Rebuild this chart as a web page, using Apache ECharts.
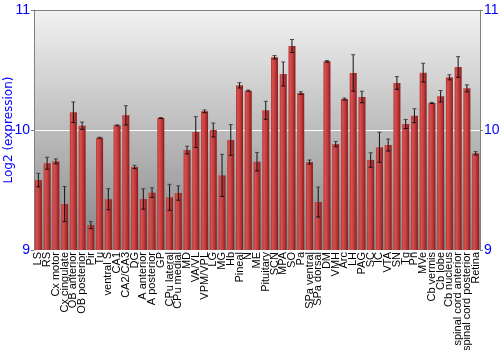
<!DOCTYPE html>
<html>
<head>
<meta charset="utf-8">
<script src="https://cdn.jsdelivr.net/npm/echarts@6/dist/echarts.min.js"></script>
<style>html,body{margin:0;padding:0;background:#fff}#c{width:500px;height:350px}</style>
</head>
<body>
<div id="c"></div>
<script>
var categories = ["LS","RS","Cx motor","Cx cingulate","OB anterior","OB posterior","Pir","Tu","ventral S","CA1","CA2/CA3","DG","A anterior","A posterior","GP","CPu lateral","CPu medial","MD","VA/VL","VPM/VPL","LG","MG","Hb","Pineal","N","ME","Pituitary","SCN","MPA","SO","Pa","SPa ventral","SPa dorsal","DM","VMH","Arc","LH","PAG","SC","IC","VTA","SN","Tg","Pn","MVe","Cb vermis","Cb lobe","Cb nucleus","spinal cord anterior","spinal cord posterior","Retina"];
var means = [9.583,9.723,9.739,9.383,10.148,10.036,9.208,9.936,9.423,10.039,10.122,9.692,9.425,9.478,10.1,9.439,9.475,9.833,9.983,10.156,10.0,9.622,9.917,10.372,10.328,9.736,10.164,10.606,10.467,10.7,10.308,9.733,9.4,10.572,9.883,10.258,10.475,10.275,9.75,9.856,9.875,10.392,10.05,10.119,10.478,10.225,10.281,10.439,10.525,10.347,9.806];
var errors = [0.056,0.05,0.02,0.146,0.086,0.03,0.03,0.004,0.088,0.004,0.08,0.014,0.085,0.04,0.004,0.108,0.06,0.032,0.128,0.011,0.058,0.175,0.128,0.022,0.005,0.077,0.075,0.014,0.1,0.054,0.011,0.017,0.125,0.007,0.022,0.008,0.152,0.048,0.06,0.125,0.05,0.053,0.038,0.058,0.078,0.005,0.048,0.021,0.086,0.029,0.014];
var yTicks = [9, 10, 11];
var yTitle = 'Log2 (expression)';

var chart = echarts.init(document.getElementById('c'), null, {renderer: 'canvas'});
var errData = means.map(function (m, i) { return [i, m - errors[i], m + errors[i]]; });
var font = 'Liberation Sans, Arial, sans-serif';
var axisCommon = {
  type: 'value', min: yTicks[0], max: yTicks[yTicks.length - 1], interval: 1,
  axisLine: {show: true, lineStyle: {color: '#808080', width: 1}},
  axisTick: {show: true, length: 3, lineStyle: {color: '#808080'}},
  axisLabel: {color: '#0000ff', fontSize: 14, fontFamily: font, margin: 4}
};
chart.setOption({
  animation: false,
  graphic: [{
    type: 'text', x: 9, y: 130, rotation: Math.PI / 2,
    style: {text: yTitle, fill: '#0000ff', fontSize: 12, fontFamily: 'DejaVu Sans, sans-serif', align: 'center', verticalAlign: 'middle'}
  }],
  grid: {
    left: 34, right: 20, top: 10, bottom: 100, show: true, borderWidth: 0,
    containLabel: false, outerBoundsMode: 'none',
    backgroundColor: new echarts.graphic.LinearGradient(0, 0, 0, 1, [
      {offset: 0, color: '#f2f2f2'},
      {offset: 1, color: '#868686'}
    ])
  },
  xAxis: {
    type: 'category', data: categories,
    axisLine: {show: false}, axisTick: {show: false},
    axisLabel: {interval: 0, rotate: 90, fontSize: 11, color: '#000', fontFamily: font, margin: 2}
  },
  yAxis: [
    Object.assign({}, axisCommon, {
      position: 'left',
      splitLine: {show: true, lineStyle: {color: ['rgba(0,0,0,0)', '#ffffff', '#808080'], width: 1}}
    }),
    Object.assign({}, axisCommon, {position: 'right', splitLine: {show: false}})
  ],
  series: [
    {
      type: 'bar', data: means, barWidth: 7,
      itemStyle: {
        color: new echarts.graphic.LinearGradient(0, 0, 1, 0, [
          {offset: 0, color: '#b83434'},
          {offset: 0.25, color: '#d65050'},
          {offset: 0.6, color: '#bf3a3a'},
          {offset: 1, color: '#861c1c'}
        ])
      }
    },
    {
      type: 'custom', data: errData, z: 10,
      renderItem: function (params, api) {
        var x = api.value(0);
        var lo = api.coord([x, api.value(1)]);
        var hi = api.coord([x, api.value(2)]);
        var w = 2;
        var st = {stroke: '#111', lineWidth: 1};
        return {type: 'group', children: [
          {type: 'line', shape: {x1: lo[0], y1: lo[1], x2: hi[0], y2: hi[1]}, style: st},
          {type: 'line', shape: {x1: lo[0] - w, y1: lo[1], x2: lo[0] + w, y2: lo[1]}, style: st},
          {type: 'line', shape: {x1: hi[0] - w, y1: hi[1], x2: hi[0] + w, y2: hi[1]}, style: {stroke: '#444', lineWidth: 1}}
        ]};
      }
    }
  ]
});
</script>
</body>
</html>
